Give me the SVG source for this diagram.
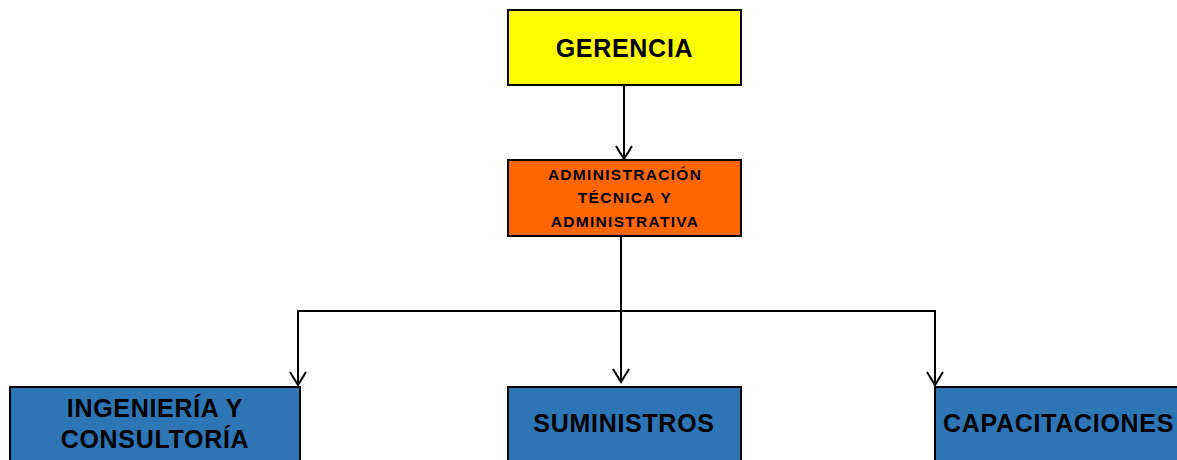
<svg xmlns="http://www.w3.org/2000/svg" width="1177" height="460" viewBox="0 0 1177 460">
<style>
.box{stroke:#000;stroke-width:2}
.t{font-family:"Liberation Sans",Arial,sans-serif;font-weight:bold;fill:#000;text-anchor:middle}
.big{font-size:25px;letter-spacing:0.7px}
.small{font-size:15.5px;letter-spacing:1.3px}
.ln{fill:none;stroke:#000;stroke-width:2}
</style>
<rect width="1177" height="460" fill="#fff"/>
<g id="connectors">
<path class="ln" d="M624,85 V159"/>
<path class="ln" d="M616,146 L624,159 L632,146"/>
<path class="ln" d="M621,236 V382"/>
<path class="ln" d="M613,369 L621,382 L629,369"/>
<path class="ln" d="M298,385 V311 H935 V385"/>
<path class="ln" d="M290,372 L298,385 L306,372"/>
<path class="ln" d="M927,372 L935,385 L943,372"/>
</g>
<g id="gerencia">
<rect class="box" x="508" y="10" width="233" height="75" fill="#FFFF00"/>
<text class="t big" x="624.5" y="57">GERENCIA</text>
</g>
<g id="administracion">
<rect class="box" x="508" y="160" width="233" height="76" fill="#FF6600"/>
<text class="t small" x="625" y="180">ADMINISTRACIÓN</text>
<text class="t small" x="625" y="203">TÉCNICA Y</text>
<text class="t small" x="625" y="227">ADMINISTRATIVA</text>
</g>
<g id="ingenieria">
<rect class="box" x="10" y="387" width="290" height="90" fill="#2E75B6"/>
<text class="t big" x="155" y="417">INGENIERÍA Y</text>
<text class="t big" x="155" y="448">CONSULTORÍA</text>
</g>
<g id="suministros">
<rect class="box" x="508" y="387" width="233" height="90" fill="#2E75B6"/>
<text class="t big" x="624" y="432">SUMINISTROS</text>
</g>
<g id="capacitaciones">
<rect class="box" x="935" y="387" width="260" height="90" fill="#2E75B6"/>
<text class="t big" x="943" y="432" style="text-anchor:start">CAPACITACIONES</text>
</g>
</svg>
